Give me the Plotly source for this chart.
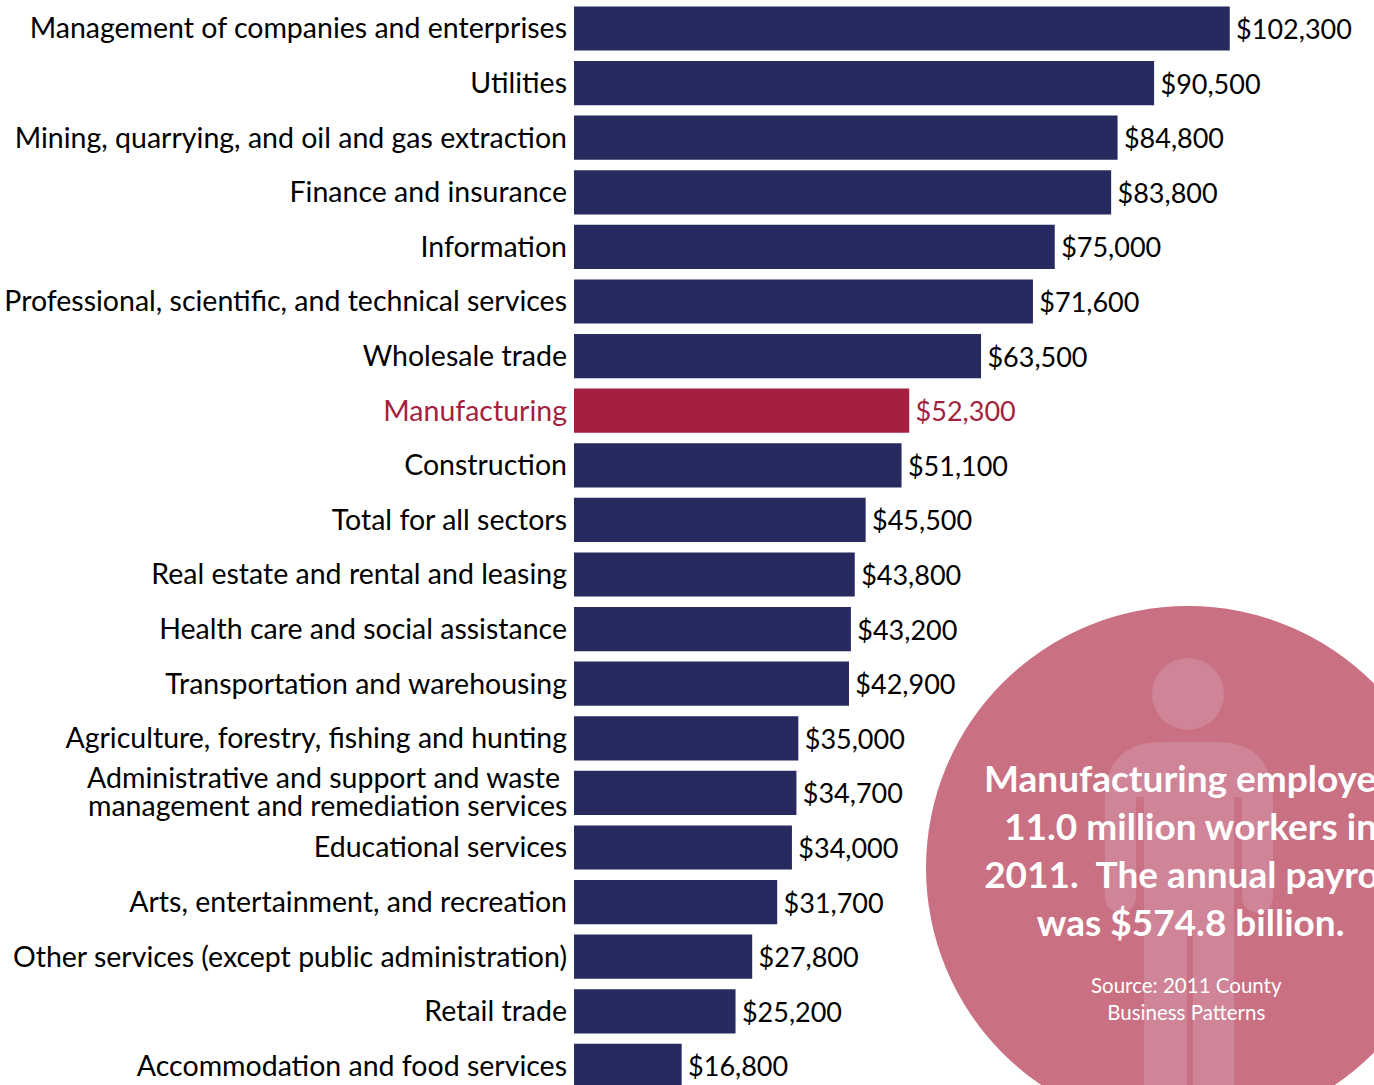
import plotly.graph_objects as go

sectors = ["Management of companies and enterprises", "Utilities",
           "Mining, quarrying, and oil and gas extraction", "Finance and insurance",
           "Information", "Professional, scientific, and technical services",
           "Wholesale trade", "Manufacturing", "Construction", "Total for all sectors",
           "Real estate and rental and leasing", "Health care and social assistance",
           "Transportation and warehousing", "Agriculture, forestry, fishing and hunting",
           "Administrative and support and waste management and remediation services",
           "Educational services", "Arts, entertainment, and recreation",
           "Other services (except public administration)", "Retail trade",
           "Accommodation and food services"]
pay = [102300, 90500, 84800, 83800, 75000, 71600, 63500, 52300, 51100, 45500,
       43800, 43200, 42900, 35000, 34700, 34000, 31700, 27800, 25200, 16800]

W, H = 1374, 1085
LEFT = 574
PX_PER_DOLLAR = 0.00641
ROW = 54.6
FIRST_ROW = 28.5
FONT = "Lato"
NAVY = "#262a5e"
RED = "#a51f3e"
CIRCLE = "#c97082"
FIGURE = "#cf8497"


def px(x):
    # page pixel to paper fraction, the plot area starts at LEFT
    return (x - LEFT) / (W - LEFT)


def py(y):
    return 1 - y / H


def pt(x, y):
    return f"{px(x):.4f},{py(y):.4f}"


colors = [RED if s == "Manufacturing" else NAVY for s in sectors]
ticktext = []
for s in sectors:
    if s == "Manufacturing":
        ticktext.append(f'<span style="color:{RED}">{s}</span>')
    elif s.startswith("Administrative"):
        ticktext.append(" ")
    else:
        ticktext.append(s)

fig = go.Figure()
fig.add_trace(go.Bar(
    x=pay, y=sectors, orientation="h",
    marker=dict(color=colors, line=dict(width=0)),
    # thin space keeps the labels off the bar ends
    text=[f"\u2009${v:,}" for v in pay],
    textposition="outside",
    cliponaxis=False,
    outsidetextfont=dict(family=FONT, size=27, color=[RED if c == RED else "black" for c in colors]),
    hoverinfo="skip",
))

# big circle and the person behind the text
shapes = [dict(type="circle", xref="paper", yref="paper", layer="below",
               x0=px(926), x1=px(1450), y0=py(606), y1=py(1130),
               fillcolor=CIRCLE, line=dict(width=0)),
          dict(type="circle", xref="paper", yref="paper", layer="below",
               x0=px(1152), x1=px(1224), y0=py(658), y1=py(730),
               fillcolor=FIGURE, line=dict(width=0))]
path = (f"M {pt(1105, 800)} Q {pt(1105, 742)} {pt(1163, 742)} L {pt(1215, 742)} "
        f"Q {pt(1273, 742)} {pt(1273, 800)} L {pt(1273, 895)} Q {pt(1273, 912)} {pt(1258, 912)} "
        f"Q {pt(1242, 912)} {pt(1242, 895)} L {pt(1242, 797)} L {pt(1234, 797)} L {pt(1234, 1085)} "
        f"L {pt(1193, 1085)} L {pt(1193, 913)} L {pt(1187, 913)} L {pt(1187, 1085)} L {pt(1144, 1085)} "
        f"L {pt(1144, 797)} L {pt(1136, 797)} L {pt(1136, 895)} Q {pt(1136, 912)} {pt(1120, 912)} "
        f"Q {pt(1105, 912)} {pt(1105, 895)} Z")
shapes.append(dict(type="path", path=path, xref="paper", yref="paper", layer="below",
                   fillcolor=FIGURE, line=dict(width=0)))

annotations = [
    dict(text="<b>Manufacturing employed<br>11.0 million workers in<br>2011.  The annual payroll<br>was $574.8 billion.</b>",
         xref="paper", yref="paper", x=px(1190), y=py(849), xanchor="center", yanchor="middle",
         showarrow=False, font=dict(family=FONT, size=37, color="white")),
    dict(text="Source: 2011 County<br>Business Patterns",
         xref="paper", yref="paper", x=px(1186), y=py(998), xanchor="center", yanchor="middle",
         showarrow=False, font=dict(family=FONT, size=20.5, color="white")),
    # this label is set tight, tighter than plotly's <br> spacing
    dict(text="Administrative and support and waste", xref="paper", yref="paper",
         x=px(562), y=py(777), xanchor="right", yanchor="middle", showarrow=False,
         font=dict(family=FONT, size=28.5, color="black")),
    dict(text="management and remediation services", xref="paper", yref="paper",
         x=px(569), y=py(805), xanchor="right", yanchor="middle", showarrow=False,
         font=dict(family=FONT, size=28.5, color="black")),
]

fig.update_layout(
    width=W, height=H,
    margin=dict(l=LEFT, r=0, t=0, b=0),
    bargap=0.19,
    showlegend=False,
    plot_bgcolor="white", paper_bgcolor="white",
    shapes=shapes, annotations=annotations,
    font=dict(family=FONT),
)
fig.update_xaxes(visible=False, range=[0, (W - LEFT) / PX_PER_DOLLAR])
fig.update_yaxes(type="category", categoryorder="array", categoryarray=sectors,
                 range=[(H - FIRST_ROW) / ROW, -FIRST_ROW / ROW],
                 tickmode="array", tickvals=sectors, ticktext=ticktext,
                 tickfont=dict(family=FONT, size=28.5, color="black"),
                 ticks="", ticklabelstandoff=6, showline=False, showgrid=False, zeroline=False)

fig.write_html("out.html", config={"displayModeBar": False},
               post_script="document.body.style.margin='0';document.body.style.overflow='hidden';")
